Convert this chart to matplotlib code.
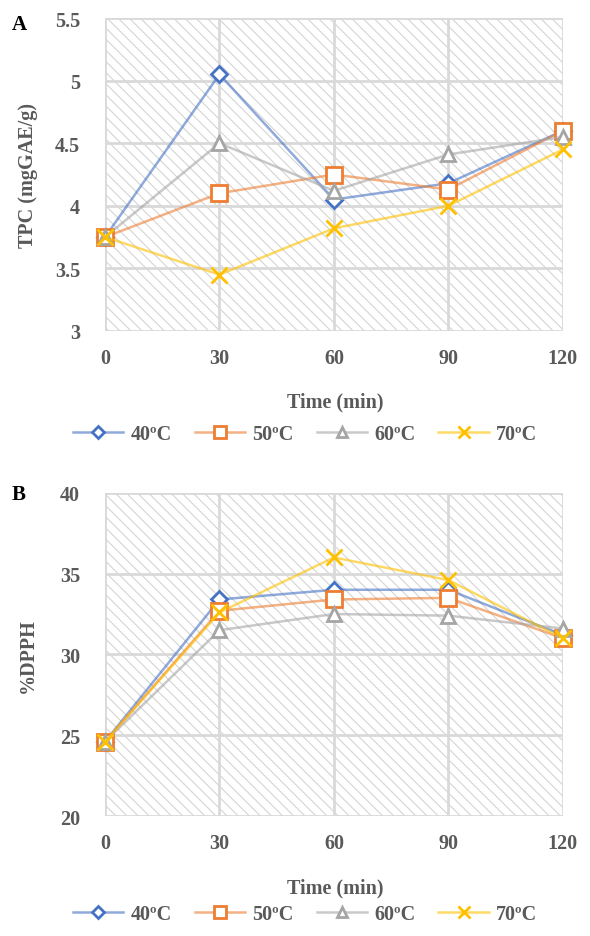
import matplotlib
matplotlib.use("Agg")
import matplotlib.pyplot as plt
import numpy as np

time_labels = ["0", "30", "60", "90", "120"]
time = [0, 30, 60, 90, 120]
series_names = ["40ºC", "50ºC", "60ºC", "70ºC"]

tpc_40 = [3.75, 5.05, 4.05, 4.18, 4.60]
tpc_50 = [3.75, 4.10, 4.25, 4.13, 4.60]
tpc_60 = [3.75, 4.50, 4.12, 4.41, 4.55]
tpc_70 = [3.75, 3.45, 3.82, 4.00, 4.45]

dpph_40 = [24.6, 33.4, 34.0, 34.0, 31.2]
dpph_50 = [24.6, 32.7, 33.4, 33.5, 31.0]
dpph_60 = [24.6, 31.5, 32.5, 32.4, 31.6]
dpph_70 = [24.6, 32.6, 36.0, 34.6, 31.0]

colors = ["#4472C4", "#ED7D31", "#A5A5A5", "#FFC000"]
markers = ["D", "s", "^", "x"]
msizes = [8, 11, 10, 11]

plt.rcParams['font.family'] = ['Liberation Serif', 'DejaVu Serif']
plt.rcParams['font.weight'] = 'bold'
plt.rcParams['hatch.linewidth'] = 0.8
plt.rcParams['hatch.color'] = '#d4d4d4'

fig = plt.figure(figsize=(5.90, 9.37), dpi=100)
tick_col = '#595959'
FS = 14.5

def panel(rect, data, ylim, yticks, yticklabels, ylabel, letter, letter_y, xlab_y, leg_y):
    ax = fig.add_axes(rect)
    ax.patch.set_facecolor('white')
    ax.patch.set_hatch('\\\\\\')
    ax.patch.set_edgecolor('#d4d4d4')
    ax.patch.set_linewidth(0)
    handles = []
    for vals, c, m, ms, name in zip(data, colors, markers, msizes, series_names):
        rgb = matplotlib.colors.to_rgb(c)
        h, = ax.plot(time, vals, color=(*rgb, 0.6), lw=1.8, marker=m, ms=ms,
                     mfc='white' if m != 'x' else c, mec=c, mew=2, clip_on=False,
                     label=name, zorder=3)
        handles.append(h)
    ax.set_xlim(0, 120)
    ax.set_ylim(*ylim)
    ax.set_xticks(time)
    ax.set_xticklabels(time_labels)
    ax.set_yticks(yticks)
    ax.set_yticklabels(yticklabels)
    ax.grid(True, color='#d9d9d9', lw=2)
    ax.set_axisbelow(True)
    for s in ax.spines.values():
        s.set_visible(False)
    ax.tick_params(axis='y', length=0, labelsize=FS, labelcolor=tick_col, pad=18)
    ax.tick_params(axis='x', length=0, labelsize=FS, labelcolor=tick_col, pad=12)
    for t in ax.get_xticklabels() + ax.get_yticklabels():
        t.set_fontweight('bold')
    ax.set_ylabel(ylabel, fontsize=FS, fontweight='bold', color=tick_col)
    ax.yaxis.set_label_coords(-0.146, 0.5)
    fig.text(0.568, xlab_y, "Time (min)", ha='center', va='center', fontsize=FS,
             fontweight='bold', color=tick_col)
    fig.text(0.02, letter_y, letter, fontsize=15, fontweight='bold', color='black', va='center')
    leg = fig.legend(handles=handles, loc='center', bbox_to_anchor=(0.517, leg_y), ncol=4,
                     frameon=False, fontsize=FS, handlelength=2.5, columnspacing=1.15,
                     handletextpad=0.35, markerscale=0.75)
    for t in leg.get_texts():
        t.set_color(tick_col)
        t.set_fontweight('bold')
    return ax

axA = panel([0.178, 0.6457, 0.776, 0.334], [tpc_40, tpc_50, tpc_60, tpc_70],
            (3, 5.5), [3, 3.5, 4, 4.5, 5, 5.5], ["3", "3.5", "4", "4.5", "5", "5.5"],
            "TPC (mgGAE/g)", "A", 0.973, 0.570, 0.536)
axB = panel([0.178, 0.128, 0.776, 0.345], [dpph_40, dpph_50, dpph_60, dpph_70],
            (20, 40), [20, 25, 30, 35, 40], ["20", "25", "30", "35", "40"],
            "%DPPH", "B", 0.472, 0.0523, 0.0235)

fig.savefig("out.png", dpi=100)
